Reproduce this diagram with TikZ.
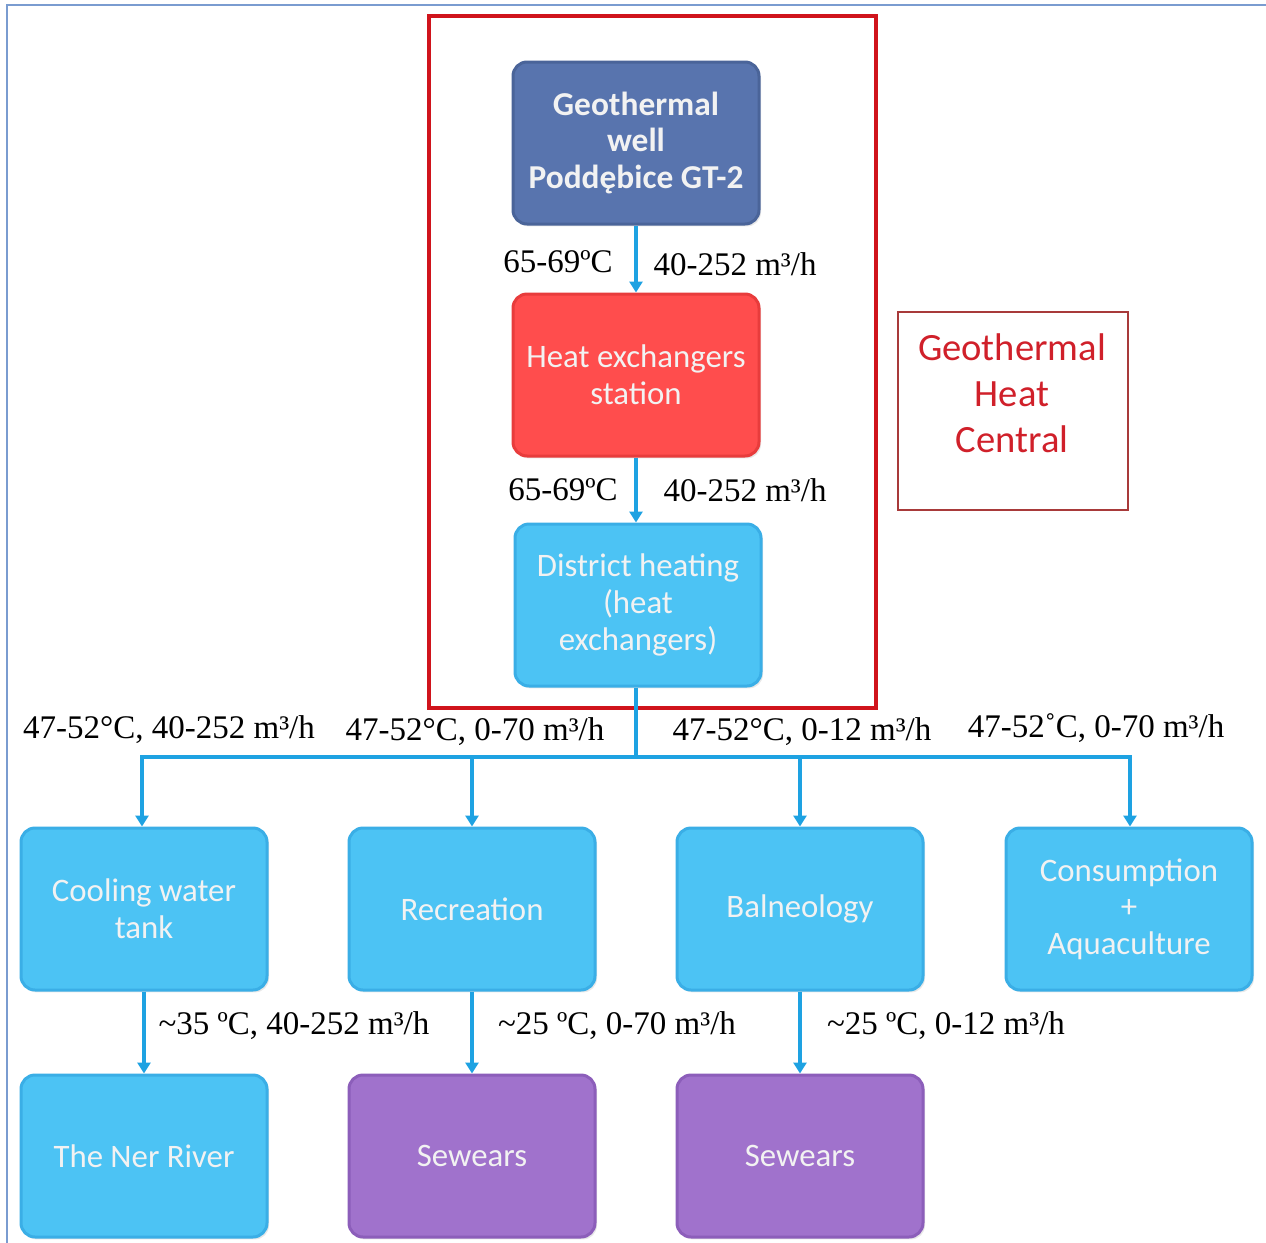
\documentclass[tikz,border=0pt]{standalone}
\usepackage{fontspec}
\setmainfont{Liberation Serif}
\newfontfamily\boxfont{Carlito}
\usetikzlibrary{arrows.meta,shadows}
\definecolor{wellblue}{HTML}{5874AE}
\definecolor{wellblueD}{HTML}{4A6499}
\definecolor{hxred}{HTML}{FF4D4D}
\definecolor{hxredD}{HTML}{E83C3C}
\definecolor{lblue}{HTML}{4CC3F4}
\definecolor{lblueD}{HTML}{3AAEE6}
\definecolor{purp}{HTML}{A072CC}
\definecolor{purpD}{HTML}{8C5EBA}
\definecolor{flow}{HTML}{1EA2E2}
\definecolor{frameblue}{HTML}{7A9CD0}
\definecolor{framered}{HTML}{D0141C}
\definecolor{ghcred}{HTML}{D0202A}
\definecolor{ghcline}{HTML}{A83A3A}
\begin{document}
\begin{tikzpicture}[x=0.5pt,y=-0.5pt,
  box/.style={rounded corners=7pt, minimum width=123pt, minimum height=81pt,
    align=center, text=white!95!black, line width=1.5pt, inner sep=2pt,
    font=\boxfont\fontsize{16.4}{18.3}\selectfont,
    drop shadow={opacity=0.18, shadow xshift=1pt, shadow yshift=-1.2pt}},
  wellbox/.style={box, fill=wellblue, draw=wellblueD, font=\boxfont\bfseries\fontsize{16.7}{18.3}\selectfont},
  hxbox/.style={box, fill=hxred, draw=hxredD},
  lbbox/.style={box, fill=lblue, draw=lblueD},
  pbox/.style={box, fill=purp, draw=purpD},
  lbl/.style={font=\fontsize{16.5}{19}\selectfont, inner sep=0pt},
  flowline/.style={draw=flow, line width=2pt},
  flowarrow/.style={flowline, -{Triangle[width=6.5pt,length=5.5pt]}},
]
\useasboundingbox (0,0) rectangle (1266,1243);
% outer frame (cropped)
\draw[frameblue, line width=0.9pt] (7,1243) -- (7,5) -- (1266,5);
% geothermal heat central frame
\draw[framered, line width=1.6pt] (429,16) rectangle (876,708);
\node[draw=ghcline, line width=0.6pt, minimum width=115pt, minimum height=99pt, inner sep=0pt] (ghc) at (1013,411) {};
\node[font=\boxfont\fontsize{19.3}{23}\selectfont, text=ghcred, align=center] (ghct) at (1012,393) {Geothermal\\Heat\\Central};

% top column
\node[wellbox] (well) at (636,143) {Geothermal\\well\\Podd\k{e}bice GT-2};
\node[hxbox] (hx) at (636,375) {Heat exchangers\\station};
\node[lbbox] (dh) at (638,605) {District heating\\(heat\\exchangers)};

% second row
\node[lbbox] (cool) at (144,909) {Cooling water\\tank};
\node[lbbox] (rec) at (472,909) {Recreation};
\node[lbbox] (bal) at (800,909) {Balneology};
\node[lbbox] (cons) at (1129,909) {Consumption\\+\\Aquaculture};

% third row
\node[lbbox] (ner) at (144,1156) {The Ner River};
\node[pbox] (sew1) at (472,1156) {Sewears};
\node[pbox] (sew2) at (800,1156) {Sewears};

% connectors
\draw[flowarrow] (well.south -| 636,0) -- (hx.north -| 636,0);
\draw[flowarrow] (hx.south -| 636,0) -- (dh.north -| 636,0);
\coordinate (j) at (636,757);
\coordinate (b1) at (142,757);
\coordinate (b2) at (472,757);
\coordinate (b3) at (800,757);
\coordinate (b4) at (1130,757);
\draw[flowline] (dh.south -| j) -- (j);
\draw[flowline, line cap=rect] (b1) -- (b4);
\draw[flowarrow] (b1) -- (b1 |- cool.north);
\draw[flowarrow] (b2) -- (b2 |- rec.north);
\draw[flowarrow] (b3) -- (b3 |- bal.north);
\draw[flowarrow] (b4) -- (b4 |- cons.north);
\draw[flowarrow] (cool.south) -- (ner.north);
\draw[flowarrow] (rec.south) -- (sew1.north);
\draw[flowarrow] (bal.south) -- (sew2.north);

% labels
\node[lbl] (l1a) at (558,262) {65-69ºC};
\node[lbl] (l1b) at (735,264) {40-252 m³/h};
\node[lbl] (l2a) at (563,490) {65-69ºC};
\node[lbl] (l2b) at (745,490) {40-252 m³/h};
\node[lbl] (l3a) at (169,730) {47-52°C, 40-252 m³/h};
\node[lbl] (l3b) at (475,732) {47-52°C, 0-70 m³/h};
\node[lbl] (l3c) at (802,732) {47-52°C, 0-12 m³/h};
\node[lbl] (l3d) at (1096,728) {47-52˚C, 0-70 m³/h};
\node[lbl] (l4a) at (294,1026) {\textasciitilde35 ºC, 40-252 m³/h};
\node[lbl] (l4b) at (617,1026) {\textasciitilde25 ºC, 0-70 m³/h};
\node[lbl] (l4c) at (946,1026) {\textasciitilde25 ºC, 0-12 m³/h};
\end{tikzpicture}
\end{document}
